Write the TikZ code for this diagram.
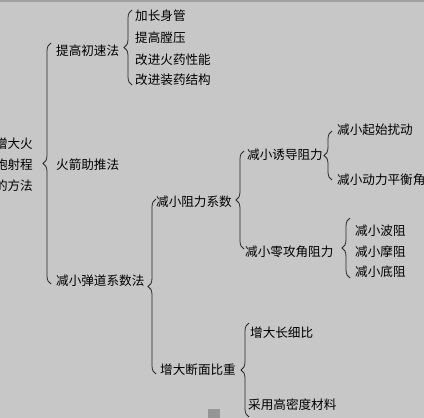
\documentclass[tikz,border=0pt]{standalone}
\usepackage{fontspec}
\setmainfont{Noto Sans CJK SC}
\usetikzlibrary{decorations.pathreplacing}
\definecolor{bg}{RGB}{199,199,199}
\definecolor{topline}{RGB}{160,160,160}
\definecolor{sq}{RGB}{150,150,150}
\definecolor{ink}{RGB}{40,40,40}
\begin{document}
\begin{tikzpicture}[x=1pt,y=-1pt,
  lbl/.style={anchor=west,inner sep=0pt,font=\fontsize{12.6}{21}\selectfont,text=black},
  br/.style={draw=ink,line width=0.8pt,decorate,decoration={brace,amplitude=8pt}}]
\useasboundingbox (0,0) rectangle (424,418);
\fill[bg] (0,0) rectangle (424,418);
\fill[topline] (0,0) rectangle (424,1.5);
\fill[sq] (208,409) rectangle (220,418);
% root
\node[anchor=east,inner sep=0pt,align=right,font=\fontsize{12.6}{21}\selectfont] (root) at (33,165) {增大火\\炮射程\\的方法};
% level 1
\node[lbl] (a1) at (56,51) {提高初速法};
\node[lbl] (a2) at (56,165) {火箭助推法};
\node[lbl] (a3) at (56,281) {减小弹道系数法};
% level 2
\node[lbl] (b1) at (135,16) {加长身管};
\node[lbl] (b2) at (135,38) {提高膛压};
\node[lbl] (b3) at (135,60) {改进火药性能};
\node[lbl] (b4) at (135,80) {改进装药结构};
\node[lbl] (c1) at (156,202) {减小阻力系数};
\node[lbl] (c2) at (160,370) {增大断面比重};
% level 3
\node[lbl] (d1) at (247,155) {减小诱导阻力};
\node[lbl] (d2) at (245,252) {减小零攻角阻力};
\node[lbl] (e1) at (250,333) {增大长细比};
\node[lbl] (e2) at (248,405) {采用高密度材料};
% level 4
\node[lbl] (f1) at (337,130) {减小起始扰动};
\node[lbl] (f2) at (337,180) {减小动力平衡角};
\node[lbl] (g1) at (355,231) {减小波阻};
\node[lbl] (g2) at (355,252) {减小摩阻};
\node[lbl] (g3) at (355,272) {减小底阻};
% brace end points
\coordinate (r0) at (51,284); \coordinate (r1) at (51,43);
\coordinate (p0) at (132,85); \coordinate (p1) at (132,10);
\coordinate (s0) at (156,374); \coordinate (s1) at (156,199);
\coordinate (t0) at (244,249); \coordinate (t1) at (244,151);
\coordinate (u0) at (332,180); \coordinate (u1) at (332,131);
\coordinate (v0) at (350,278); \coordinate (v1) at (350,218);
\coordinate (w0) at (249,417); \coordinate (w1) at (249,323);
\draw[br] (r0) -- (r1);
\draw[br] (p0) -- (p1);
\draw[br] (s0) -- (s1);
\draw[br] (t0) -- (t1);
\draw[br] (u0) -- (u1);
\draw[br] (v0) -- (v1);
\draw[br] (w0) -- (w1);
\end{tikzpicture}
\end{document}
